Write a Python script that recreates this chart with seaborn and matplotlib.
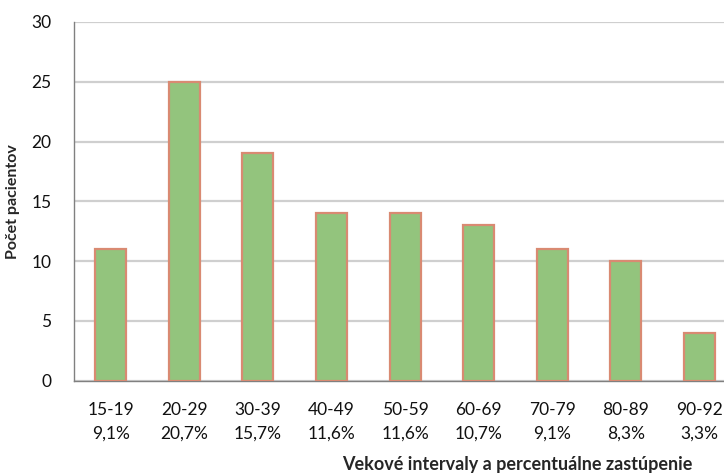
import pandas as pd
import matplotlib.pyplot as plt
import seaborn as sns

# data
intervals = ['15-19', '20-29', '30-39', '40-49', '50-59', '60-69', '70-79', '80-89', '90-92']
percent = ['9,1%', '20,7%', '15,7%', '11,6%', '11,6%', '10,7%', '9,1%', '8,3%', '3,3%']
patients = [11, 25, 19, 14, 14, 13, 11, 10, 4]

labels = [i + '\n' + p for i, p in zip(intervals, percent)]
df = pd.DataFrame({'label': labels, 'count': patients})

sns.set_style('white')
plt.rcParams['font.family'] = ['Lato', 'DejaVu Sans']

fig = plt.figure(figsize=(7.24, 4.76), dpi=100)
ax = fig.add_axes([0.102, 0.2, 0.915, 0.754])

sns.barplot(data=df, x='label', y='count', color='#93c47d', width=0.42,
            edgecolor='#d98a72', linewidth=1.6, saturation=1, ax=ax, zorder=3)

ax.set_ylim(0, 30)
ax.set_yticks(range(0, 31, 5))
ax.set_xlim(-0.5, 8.5)
ax.yaxis.grid(True, color='#cfcfcf', linewidth=1.6, zorder=0)
ax.set_axisbelow(True)
for s in ['left', 'bottom']:
    ax.spines[s].set_color('#808080')
    ax.spines[s].set_linewidth(1)
ax.spines['top'].set_visible(False)
ax.spines['right'].set_visible(False)
ax.tick_params(axis='x', length=0, labelsize=12.5, colors='#111111', pad=15)
ax.tick_params(axis='y', length=0, labelsize=12.5, colors='#111111', pad=16)
for t in ax.get_xticklabels():
    t.set_linespacing(1.6)

ax.set_ylabel('Počet pacientov', fontsize=11.5, fontweight='bold', labelpad=8)
ax.set_xlabel('')
fig.text(0.715, 0.012, 'Vekové intervaly a percentuálne zastúpenie', ha='center',
         fontsize=13, fontweight='bold')

fig.savefig('out.png', dpi=100)
